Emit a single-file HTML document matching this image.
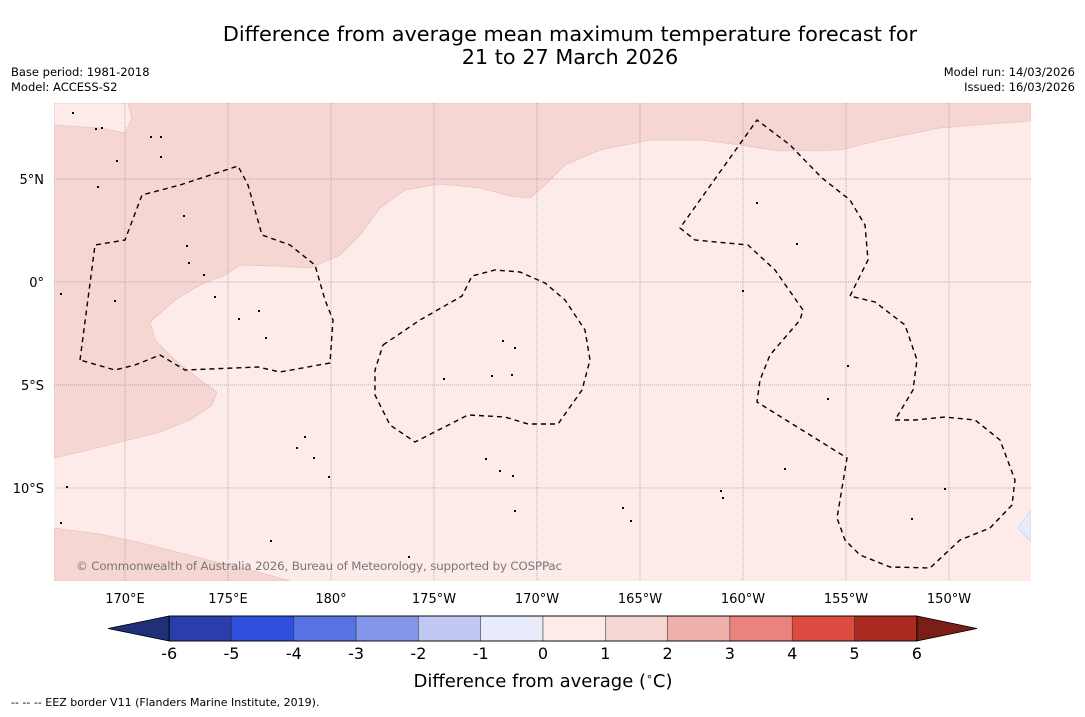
<!DOCTYPE html>
<html><head><meta charset="utf-8"><style>
body{margin:0;background:#fff;font-family:"DejaVu Sans","Liberation Sans",sans-serif}
svg text{font-family:"DejaVu Sans","Liberation Sans",sans-serif}
</style></head><body>
<svg id="s" width="1085" height="713" xmlns="http://www.w3.org/2000/svg">
<text x="570" y="41" font-size="20.8" text-anchor="middle">Difference from average mean maximum temperature forecast for</text>
<text x="570" y="64" font-size="20.8" text-anchor="middle">21 to 27 March 2026</text>
<text x="11" y="76" font-size="11.5">Base period: 1981-2018</text>
<text x="11" y="91" font-size="11.5">Model: ACCESS-S2</text>
<text x="1075" y="76" font-size="11.5" text-anchor="end">Model run: 14/03/2026</text>
<text x="1075" y="91" font-size="11.5" text-anchor="end">Issued: 16/03/2026</text>
<defs><clipPath id="mc"><rect x="54" y="103" width="977" height="478"/></clipPath></defs>
<g id="map" clip-path="url(#mc)">
<rect x="54" y="103" width="977" height="478" fill="#fcebe8"/>
<polygon fill="#f6d6d3" stroke="#e6b8b4" stroke-width="0.6" points="54,103 1031,103 1031,121 975,125 940,128 880,140 840,150 780,151 740,145 700,140 650,140 600,150 565,165 545,185 530,198 510,196 480,188 440,184 405,190 380,208 360,235 340,255 310,268 275,266 240,265 225,275 200,285 175,300 150,322 155,340 175,360 200,380 217,392 212,405 190,420 160,432 120,442 80,452 54,458"/>
<polygon fill="#fcebe8" stroke="#e6b8b4" stroke-width="0.6" points="54,103 128,103 132,118 125,133 100,128 54,125"/>
<polygon fill="#f6d6d3" stroke="#e6b8b4" stroke-width="0.6" points="54,528 100,534 150,545 200,558 250,570 290,581 54,581"/>
<polygon fill="#e9ecf8" stroke="#c8cce8" stroke-width="0.6" points="1031,510 1018,528 1031,542"/>
<g id="grid"></g>
<g fill="none" stroke="#000" stroke-width="1.4" stroke-dasharray="5,4">
<polyline points="80,360 95,245 125,240 142,195 180,185 238,166 248,185 262,235 290,245 315,265 325,300 333,320 330,363 280,372 258,367 185,370 160,355 135,365 115,370 80,360"/>
<polyline points="383,345 420,320 462,296 472,276 495,270 520,272 545,283 565,300 585,330 590,360 582,390 558,424 528,424 505,417 468,415 415,442 390,425 375,395 375,370 383,345"/>
<polyline points="850,296 868,260 865,225 850,200 822,178 790,145 757,120 700,200 680,228 695,240 748,245 775,270 803,310 800,320 770,355 760,380 757,402 847,458 837,518 845,540 860,555 890,567 930,568 960,540 990,528 1012,505 1015,480 1000,440 975,420 945,417 915,420 895,420 913,390 917,360 905,325 875,302 850,296"/>
</g>
<g id="isl" fill="#000"></g>
<text x="76" y="570" font-size="11.8" fill="#777" textLength="486">© Commonwealth of Australia 2026, Bureau of Meteorology, supported by COSPPac</text>
</g>
<g id="axes"></g>
<g id="cbar"></g>
<text x="543" y="687" font-size="18" text-anchor="middle">Difference from average (<tspan font-size="11" dy="-7">∘</tspan><tspan dy="7">C)</tspan></text>
<text x="11" y="706" font-size="11">--  --  -- EEZ border V11 (Flanders Marine Institute, 2019).</text>
</svg>
<script>
const lonTicks=[170,175,180,185,190,195,200,205,210];
const lonLabels=["170°E","175°E","180°","175°W","170°W","165°W","160°W","155°W","150°W"];
const latTicks=[5,0,-5,-10];
const latLabels=["5°N","0°","5°S","10°S"];
const cbLevels=[-6,-5,-4,-3,-2,-1,0,1,2,3,4,5,6];
const cbColors=["#2a3eab","#2f4fde","#5672e3","#8496ea","#c0c8f3","#e8ebf9","#fcebe8","#f6d6d3","#eeb0aa","#e8847c","#dc4a40","#ab2b23"];
const islands=[[72,112],[95,128],[101,127],[150,136],[160,136],[160,156],[116,160],[97,186],[183,215],[186,245],[188,262],[203,274],[214,296],[238,318],[258,310],[265,337],[443,378],[491,375],[502,340],[514,347],[511,374],[485,458],[499,470],[512,475],[514,510],[756,202],[796,243],[742,290],[847,365],[827,398],[784,468],[720,490],[722,497],[911,518],[944,488],[622,507],[630,520],[408,556],[270,540],[328,476],[304,436],[313,457],[296,447],[60,522],[66,486],[60,293],[114,300]];
const NS="http://www.w3.org/2000/svg";
const X=lon=>331+(lon-180)*20.6, Y=lat=>282-lat*20.6;
function mk(t,a,p){const e=document.createElementNS(NS,t);for(const k in a)e.setAttribute(k,a[k]);p.appendChild(e);return e;}
const grid=document.getElementById('grid'),axes=document.getElementById('axes'),cb=document.getElementById('cbar'),isl=document.getElementById('isl');
lonTicks.forEach((l,i)=>{
 const g=mk('line',{x1:X(l),x2:X(l),y1:103,y2:581,stroke:'#777','stroke-width':0.5,'stroke-dasharray':'1,1'},grid);
 
 
 const t=mk('text',{x:X(l),y:603,'font-size':13,'text-anchor':'middle'},axes);t.textContent=lonLabels[i];
 
 
});
latTicks.forEach((l,i)=>{
 const g=mk('line',{x1:54,x2:1031,y1:Y(l),y2:Y(l),stroke:'#777','stroke-width':0.5,'stroke-dasharray':'1,1'},grid);
 
 
 const t=mk('text',{x:44,y:Y(l)+5,'font-size':13,'text-anchor':'end'},axes);t.textContent=latLabels[i];
 
 
});
islands.forEach(p=>{const r=mk('rect',{x:p[0],y:p[1],width:2,height:2},isl);
 
 });
const CX=v=>543+v*62.3, cy=616, ch=25;
const lt=mk('polygon',{points:`${CX(-6)},${cy} ${CX(-6)},${cy+ch} 108,${cy+ch/2}`,fill:'#1f2f78',stroke:'#000','stroke-width':0.8},cb);


const rt=mk('polygon',{points:`${CX(6)},${cy} ${CX(6)},${cy+ch} 977,${cy+ch/2}`,fill:'#7b1e17',stroke:'#000','stroke-width':0.8},cb);


cbColors.forEach((c,i)=>{const r=mk('rect',{x:CX(cbLevels[i]),y:cy,width:CX(cbLevels[i+1])-CX(cbLevels[i]),height:ch,fill:c,stroke:'#333','stroke-width':0.5},cb);
 
 });
const ob=mk('rect',{x:CX(-6),y:cy,width:CX(6)-CX(-6),height:ch,fill:'none',stroke:'#000','stroke-width':0.9},cb);


cbLevels.forEach(v=>{const t=mk('text',{x:CX(v),y:659,'font-size':16,'text-anchor':'middle'},cb);t.textContent=String(v);
 
 });
</script>
</body></html>
